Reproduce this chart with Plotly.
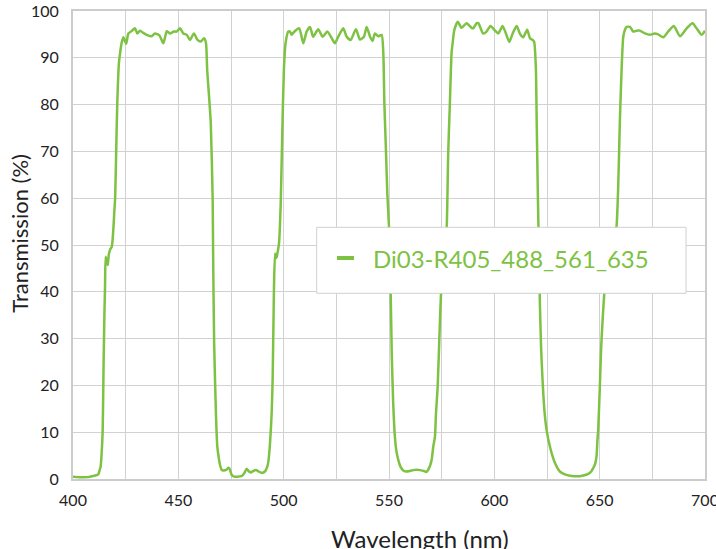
import plotly.graph_objects as go

# ---- data ----
series_name = "Di03-R405_488_561_635"

wavelength_nm = [
    400.0, 403.0, 407.0, 409.0, 411.0, 412.0, 412.6, 413.1, 413.6, 414.1,
    414.5, 414.9, 415.2, 415.5, 416.0, 416.5, 417.0, 417.6, 418.4, 419.1,
    419.6, 420.0, 420.5, 421.0, 421.8, 422.5, 423.1, 423.9, 425.2, 426.3,
    427.8, 429.4, 430.5, 431.8, 433.1, 435.0, 437.3, 438.9, 441.0, 442.9,
    444.5, 446.0, 447.9, 449.2, 450.8, 452.4, 454.0, 455.5, 457.4, 459.0,
    460.7, 462.2, 463.1, 463.7, 464.7, 465.4, 466.3, 466.5, 467.0, 467.9,
    468.5, 469.2, 469.8, 470.5, 471.4, 472.9, 473.7, 474.3, 475.3, 476.5,
    477.7, 480.0, 481.3, 482.4, 483.3, 484.3, 485.5, 486.8, 488.2, 489.6,
    491.1, 492.2, 492.7, 493.5, 494.3, 494.8, 495.4, 495.9, 496.3, 496.7,
    497.2, 497.8, 498.6, 499.3, 500.1, 500.9, 502.2, 503.0, 503.8, 504.3,
    505.8, 507.4, 509.3, 510.9, 512.5, 514.0, 516.4, 518.5, 520.7, 522.8,
    524.3, 525.9, 528.3, 529.9, 531.8, 534.3, 536.2, 538.1, 539.4, 541.0,
    542.2, 543.3, 544.9, 546.5, 547.3, 547.8, 548.6, 549.2, 550.0, 550.4,
    550.8, 551.3, 552.0, 552.8, 553.5, 554.4, 555.5, 556.8, 558.0, 559.9,
    561.5, 563.1, 564.8, 566.6, 567.8, 568.5, 569.6, 570.3, 571.0, 571.8,
    572.3, 573.1, 574.2, 574.7, 575.2, 575.8, 576.5, 577.4, 578.1, 578.9,
    579.7, 580.3, 581.0, 582.6, 584.5, 586.8, 589.2, 590.0, 591.6, 592.4,
    594.7, 596.3, 598.2, 600.3, 601.9, 603.9, 605.5, 607.1, 608.7, 610.6,
    612.1, 613.7, 615.6, 616.9, 618.2, 618.9, 619.7, 620.1, 620.7, 621.2,
    621.6, 622.2, 622.9, 623.8, 624.8, 626.4, 628.8, 631.1, 633.5, 635.9,
    638.0, 640.6, 642.8, 644.6, 646.0, 646.9, 647.7, 648.5, 648.9, 649.3,
    650.1, 650.7, 651.4, 652.2, 653.0, 654.2, 655.5, 656.8, 658.0, 658.8,
    659.6, 660.4, 661.2, 662.0, 662.8, 664.4, 665.9, 667.5, 669.1, 671.5,
    673.8, 676.2, 677.8, 680.2, 682.5, 685.2, 688.1, 691.3, 694.1, 696.0,
    698.4, 700.0,
]

transmission_pct = [
    0.5, 0.4, 0.4, 0.6, 0.8, 1.0, 1.8, 2.6, 5.5, 10.5,
    24.0, 35.0, 41.0, 47.5, 46.5, 45.7, 48.0, 49.0, 49.6, 53.0,
    57.0, 60.0, 70.0, 80.0, 88.9, 91.5, 93.2, 94.4, 93.0, 95.2,
    95.7, 96.3, 95.2, 95.8, 95.4, 94.9, 94.6, 95.2, 94.8, 93.1,
    95.7, 95.2, 95.6, 95.6, 96.3, 95.2, 94.9, 93.8, 95.2, 93.9,
    93.5, 94.2, 93.2, 87.4, 81.0, 76.0, 59.6, 49.0, 29.0, 13.3,
    6.9, 4.5, 3.0, 2.0, 1.8, 2.0, 2.4, 2.2, 0.9, 0.5,
    0.5, 0.6, 1.2, 2.2, 1.7, 1.4, 1.7, 1.9, 1.6, 1.3,
    1.6, 2.6, 3.6, 7.5, 14.0, 22.0, 41.0, 48.2, 47.2, 47.5,
    48.6, 50.4, 58.9, 73.1, 87.4, 93.1, 95.6, 95.6, 94.9, 95.2,
    95.9, 96.3, 93.1, 95.6, 96.6, 94.5, 96.1, 94.5, 95.6, 94.2,
    93.1, 94.5, 96.3, 94.5, 93.8, 96.1, 93.9, 94.5, 96.6, 94.5,
    93.6, 95.2, 94.6, 94.9, 91.0, 80.3, 69.6, 61.0, 53.9, 47.0,
    39.7, 26.9, 16.2, 9.0, 6.0, 4.1, 2.6, 1.8, 1.6, 1.7,
    1.9, 2.0, 1.9, 1.7, 1.5, 1.9, 3.0, 4.2, 6.9, 9.0,
    14.0, 19.7, 34.0, 39.7, 44.0, 47.0, 49.0, 53.9, 69.6, 80.3,
    91.0, 93.5, 95.9, 97.7, 96.4, 97.4, 96.4, 96.3, 97.4, 97.4,
    95.2, 95.6, 96.8, 95.8, 95.2, 96.8, 95.2, 93.4, 95.2, 96.8,
    95.2, 94.4, 96.0, 94.2, 93.8, 93.4, 88.0, 76.7, 59.6, 48.0,
    38.0, 28.0, 21.0, 14.5, 10.5, 6.9, 3.4, 1.6, 1.0, 0.7,
    0.6, 0.6, 0.8, 1.1, 1.6, 2.3, 3.0, 4.8, 8.0, 10.5,
    20.0, 28.0, 34.0, 39.7, 44.0, 46.5, 48.5, 50.5, 53.9, 62.5,
    76.7, 87.4, 94.5, 96.0, 96.6, 96.6, 95.6, 95.8, 95.8, 95.2,
    94.9, 95.2, 95.0, 94.4, 95.6, 96.8, 94.6, 96.3, 97.4, 96.3,
    94.9, 95.8,
]

x_ticks = [400, 450, 500, 550, 600, 650, 700]
y_ticks = [0, 10, 20, 30, 40, 50, 60, 70, 80, 90, 100]
x_title = "Wavelength (nm)"
y_title = "Transmission (%)"

# ---- styling ----
GREEN = "#7dc242"
GRID = "#d2d2d2"
FRAME = "#cccccc"
TEXT = "#222222"
FONT = "Lato, 'Open Sans', sans-serif"

fig = go.Figure()
fig.add_trace(go.Scatter(
    x=wavelength_nm, y=transmission_pct, mode="lines", name=series_name,
    line=dict(color=GREEN, width=2.5, shape="spline", smoothing=0.6),
    showlegend=False, hoverinfo="x+y", cliponaxis=True,
))

fig.update_layout(
    width=716, height=549,
    margin=dict(l=73, r=11, t=11, b=70, autoexpand=False),
    paper_bgcolor="white", plot_bgcolor="white",
    font=dict(family=FONT, color=TEXT, size=16),
    xaxis=dict(
        range=[400, 700], tickvals=x_ticks, ticktext=[str(v) for v in x_ticks],
        showgrid=True, gridcolor=GRID, gridwidth=1,
        minor=dict(dtick=25, showgrid=True, gridcolor=GRID, gridwidth=1),
        showline=True, linecolor=FRAME, linewidth=2, mirror=True,
        zeroline=False, ticks="", ticklabelstandoff=6, automargin=False,
        ticklabeloverflow="allow",
        tickfont=dict(size=16, color=TEXT),
    ),
    yaxis=dict(
        range=[0, 100], tickvals=y_ticks, ticktext=[str(v) for v in y_ticks],
        showgrid=True, gridcolor=GRID, gridwidth=1,
        showline=True, linecolor=FRAME, linewidth=2, mirror=True,
        zeroline=False, ticks="", ticklabelstandoff=9, automargin=False,
        ticklabeloverflow="allow",
        tickfont=dict(size=16, color=TEXT),
    ),
)

# axis titles
fig.add_annotation(text=x_title, xref="paper", yref="paper", x=0.549, y=-0.092,
                   xanchor="center", yanchor="top", showarrow=False,
                   font=dict(size=24, color=TEXT, family=FONT))
fig.add_annotation(text=y_title, xref="paper", yref="paper", x=-0.086, y=0.5256,
                   xanchor="center", yanchor="middle", textangle=-90, showarrow=False,
                   font=dict(size=22, color=TEXT, family=FONT))

# legend box
fig.add_shape(type="rect", xref="paper", yref="paper", x0=0.3856, x1=0.970,
              y0=0.3968, y1=0.5378, line=dict(color="#d0d0d0", width=1),
              fillcolor="white", layer="above")
fig.add_shape(type="line", xref="paper", yref="paper", x0=0.4177, x1=0.4446,
              y0=0.4722, y1=0.4722, line=dict(color=GREEN, width=4), layer="above")
fig.add_annotation(text=series_name, xref="paper", yref="paper", x=0.4715, y=0.4722,
                   xanchor="left", yanchor="middle", showarrow=False,
                   font=dict(size=24, color=GREEN, family=FONT))

fig.write_html(
    "out.html",
    config={"displayModeBar": False},
    post_script="document.body.style.margin='0';document.body.style.overflow='hidden';",
)
